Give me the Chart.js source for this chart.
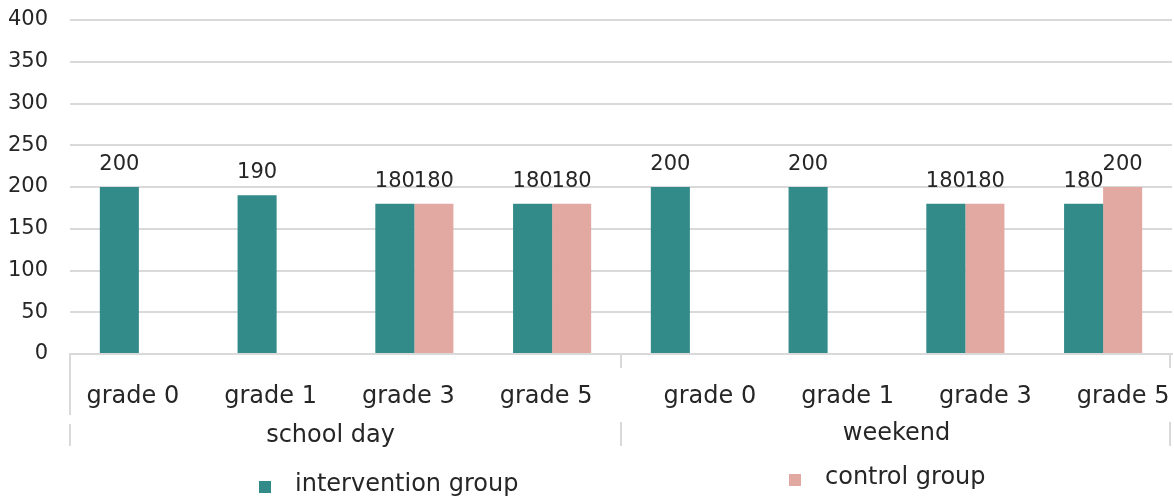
<!DOCTYPE html>
<html>
<head>
<meta charset="utf-8">
<style>
  html, body { margin: 0; padding: 0; background: #fff; }
  #wrap { width: 1174px; height: 499px; position: relative; }
</style>
<script src="https://cdn.jsdelivr.net/npm/chart.js@4"></script>
</head>
<body>
<div id="wrap"><canvas id="chart" width="1174" height="499"></canvas></div>
<script>
// Categories: grade within each day type
const grades = ['grade 0', 'grade 1', 'grade 3', 'grade 5', 'grade 0', 'grade 1', 'grade 3', 'grade 5'];
const dayTypes = ['school day', 'weekend'];
const gradesPerDayType = 4;

// Series values (null = no measurement)
const interventionValues = [200, 190, 180, 180, 200, 200, 180, 180];
const controlValues = [null, null, 180, 180, null, null, 180, 200];

const seriesNames = ['intervention group', 'control group'];
const yTicks = [0, 50, 100, 150, 200, 250, 300, 350, 400];

const teal = '#328A89';
const pink = '#E2A8A2';
const textColor = '#262626';
const gridColor = '#D9D9D9';
const FONT = '"DejaVu Sans", sans-serif';

// Value labels above each bar
const valueLabels = {
  id: 'valueLabels',
  afterDatasetsDraw(chart) {
    const ctx = chart.ctx;
    ctx.save();
    ctx.font = '21px ' + FONT;
    ctx.fillStyle = textColor;
    ctx.textAlign = 'center';
    ctx.textBaseline = 'alphabetic';
    chart.data.datasets.forEach((ds, di) => {
      const meta = chart.getDatasetMeta(di);
      meta.data.forEach((bar, i) => {
        const v = ds.data[i];
        if (v === null || v === undefined) return;
        ctx.fillText(String(v), bar.x, bar.y - 17);
      });
    });
    ctx.restore();
  }
};

// Two-level category axis, separators and legend
const categoryAxis = {
  id: 'categoryAxis',
  afterDraw(chart) {
    const ctx = chart.ctx;
    const x = chart.scales.x;
    const area = chart.chartArea;
    const base = area.bottom;
    ctx.save();

    // separators between day types
    ctx.strokeStyle = gridColor;
    ctx.lineWidth = 2;
    const nGroups = dayTypes.length;
    const step = (x.right - x.left) / grades.length;
    for (let g = 0; g <= nGroups; g++) {
      let sx = x.left + g * gradesPerDayType * step;
      if (g === nGroups) sx -= 2;
      ctx.beginPath();
      if (g === 0) {
        ctx.moveTo(sx, base); ctx.lineTo(sx, base + 61);
      } else {
        ctx.moveTo(sx, base); ctx.lineTo(sx, base + 14);
      }
      ctx.moveTo(sx, base + (g === 0 ? 70 : 68));
      ctx.lineTo(sx, base + 92);
      ctx.stroke();
    }

    // grade labels
    ctx.fillStyle = textColor;
    ctx.font = '24px ' + FONT;
    ctx.textAlign = 'center';
    ctx.textBaseline = 'middle';
    grades.forEach((label, i) => {
      const g = Math.floor(i / gradesPerDayType);
      const shift = g === 0 ? -6 : 20;
      ctx.fillText(label, x.getPixelForValue(i) + shift, base + 43);
    });

    // day type labels
    dayTypes.forEach((label, g) => {
      const first = x.getPixelForValue(g * gradesPerDayType) - step / 2;
      const last = x.getPixelForValue((g + 1) * gradesPerDayType - 1) + step / 2;
      const shift = g === 0 ? -15 : 0;
      ctx.fillText(label, (first + last) / 2 + shift, base + (g === 0 ? 82 : 80));
    });

    // legend
    ctx.textAlign = 'left';
    const legendItems = [
      { name: seriesNames[0], color: teal, x: 259, y: 487 },
      { name: seriesNames[1], color: pink, x: 789, y: 480 }
    ];
    ctx.font = '24px ' + FONT;
    legendItems.forEach(item => {
      ctx.fillStyle = item.color;
      ctx.fillRect(item.x, item.y - 6, 12, 12);
      ctx.fillStyle = textColor;
      ctx.fillText(item.name, item.x + 36, item.y - 2);
    });
    ctx.restore();
  }
};

new Chart(document.getElementById('chart'), {
  type: 'bar',
  data: {
    labels: grades,
    datasets: [
      { label: seriesNames[0], data: interventionValues, backgroundColor: teal },
      { label: seriesNames[1], data: controlValues, backgroundColor: pink }
    ]
  },
  options: {
    responsive: false,
    animation: false,
    events: [],
    layout: { padding: { top: 20, right: 2, left: 0, bottom: 0 } },
    datasets: { bar: { barPercentage: 1.0, categoryPercentage: 0.567 } },
    plugins: {
      legend: { display: false },
      tooltip: { enabled: false },
      title: { display: false }
    },
    scales: {
      x: {
        grid: { display: false, drawTicks: false },
        border: { display: true, color: gridColor, width: 2 },
        ticks: { display: false },
        afterFit(scale) { scale.height = 145; scale.paddingLeft = 0; scale.paddingRight = 0; }
      },
      y: {
        min: 0,
        max: 400,
        afterBuildTicks(scale) { scale.ticks = yTicks.map(v => ({ value: v })); },
        grid: { color: gridColor, lineWidth: 2, drawTicks: false },
        border: { display: false },
        ticks: {
          color: textColor,
          font: { family: 'DejaVu Sans', size: 21 },
          padding: 22
        },
        afterFit(scale) { scale.width = 70; scale.paddingTop = 0; scale.paddingBottom = 0; }
      }
    }
  },
  plugins: [valueLabels, categoryAxis]
});
</script>
</body>
</html>
